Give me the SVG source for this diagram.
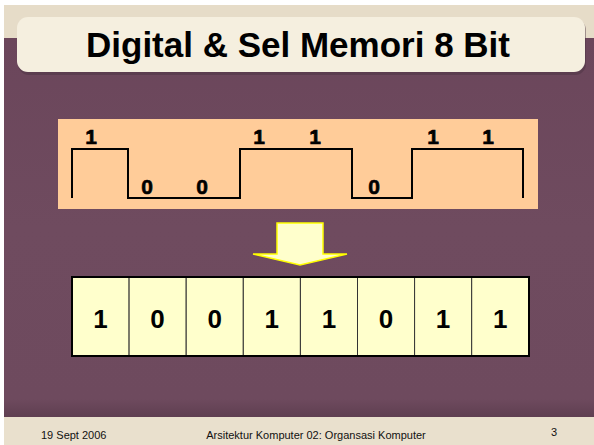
<svg xmlns="http://www.w3.org/2000/svg" width="594" height="445" viewBox="0 0 594 445">
  <style>
    .title { font-family: "Liberation Sans", Arial, sans-serif; font-weight: bold; font-size: 35px; fill: #000; }
    .wave-lbl { font-family: "Liberation Sans", Arial, sans-serif; font-weight: bold; font-size: 21px; fill: #000; text-anchor: middle; stroke: #000; stroke-width: 0.6; }
    .bit { font-family: "Liberation Sans", Arial, sans-serif; font-weight: bold; font-size: 26px; fill: #000; text-anchor: middle; }
    .foot { font-family: "Liberation Sans", Arial, sans-serif; font-size: 11px; fill: #111; }
    .wave { fill: none; stroke: #000; stroke-width: 2; }
    .cell { fill: #FFFFCC; stroke: #333; stroke-width: 1; }
  </style>
  <defs>
    <linearGradient id="bodyGrad" x1="0" y1="0" x2="0" y2="1">
      <stop offset="0" stop-color="#6B465B"/>
      <stop offset="0.5" stop-color="#6F4B5F"/>
      <stop offset="0.95" stop-color="#6E4A5E"/>
      <stop offset="1" stop-color="#5E3E50"/>
    </linearGradient>
  </defs>

  <!-- slide background -->
  <rect x="0" y="0" width="594" height="445" fill="#FFFFFF"/>
  <rect x="4" y="5" width="590" height="35" fill="#E6DCC8"/>
  <rect x="4" y="38" width="590" height="380" fill="url(#bodyGrad)"/>
  <rect x="4" y="417" width="590" height="28" fill="#E9E0CD"/>

  <!-- title banner -->
  <g id="title">
    <rect x="18" y="19" width="568" height="56" rx="11" fill="#4A3040" opacity="0.45"/>
    <rect x="17" y="17" width="568" height="55" rx="11" fill="#F5EFDF"/>
    <text class="title" x="298" y="57" text-anchor="middle">Digital &amp; Sel Memori 8 Bit</text>
  </g>

  <!-- digital signal panel -->
  <g id="signal">
    <rect x="58" y="119" width="480" height="90" fill="#FFCC99"/>
    <path class="wave" d="M72,198 V149 H128 V198 H240 V149 H352 V198 H412 V149 H523 V198"/>
    <text class="wave-lbl" x="91" y="144">1</text>
    <text class="wave-lbl" x="147" y="194">0</text>
    <text class="wave-lbl" x="202" y="194">0</text>
    <text class="wave-lbl" x="259" y="144">1</text>
    <text class="wave-lbl" x="315" y="144">1</text>
    <text class="wave-lbl" x="374" y="194">0</text>
    <text class="wave-lbl" x="433" y="144">1</text>
    <text class="wave-lbl" x="488" y="144">1</text>
  </g>

  <!-- down arrow -->
  <g id="arrow">
    <polygon points="277,223 323,223 323,254 347,254 300,265 253,254 277,254" fill="#FFFFCC" stroke="#FFFF00" stroke-width="1.5" stroke-linejoin="miter"/>
  </g>

  <!-- 8-bit memory register -->
  <g id="register">
    <rect class="cell" x="72" y="277" width="57.1" height="79"/>
    <rect class="cell" x="129.1" y="277" width="57.1" height="79"/>
    <rect class="cell" x="186.2" y="277" width="57.1" height="79"/>
    <rect class="cell" x="243.3" y="277" width="57.1" height="79"/>
    <rect class="cell" x="300.4" y="277" width="57.1" height="79"/>
    <rect class="cell" x="357.5" y="277" width="57.1" height="79"/>
    <rect class="cell" x="414.6" y="277" width="57.1" height="79"/>
    <rect class="cell" x="471.7" y="277" width="57.3" height="79"/>
    <rect x="72" y="277" width="457" height="79" fill="none" stroke="#000" stroke-width="2"/>
    <text class="bit" x="100.5" y="328">1</text>
    <text class="bit" x="157.6" y="328">0</text>
    <text class="bit" x="214.7" y="328">0</text>
    <text class="bit" x="271.8" y="328">1</text>
    <text class="bit" x="328.9" y="328">1</text>
    <text class="bit" x="386" y="328">0</text>
    <text class="bit" x="443.1" y="328">1</text>
    <text class="bit" x="500.3" y="328">1</text>
  </g>

  <!-- footer -->
  <g id="footer">
    <text class="foot" x="41" y="439">19 Sept 2006</text>
    <text class="foot" x="316" y="439" text-anchor="middle">Arsitektur Komputer 02: Organsasi Komputer</text>
    <text class="foot" x="554" y="436" text-anchor="middle" font-size="12">3</text>
  </g>
</svg>
